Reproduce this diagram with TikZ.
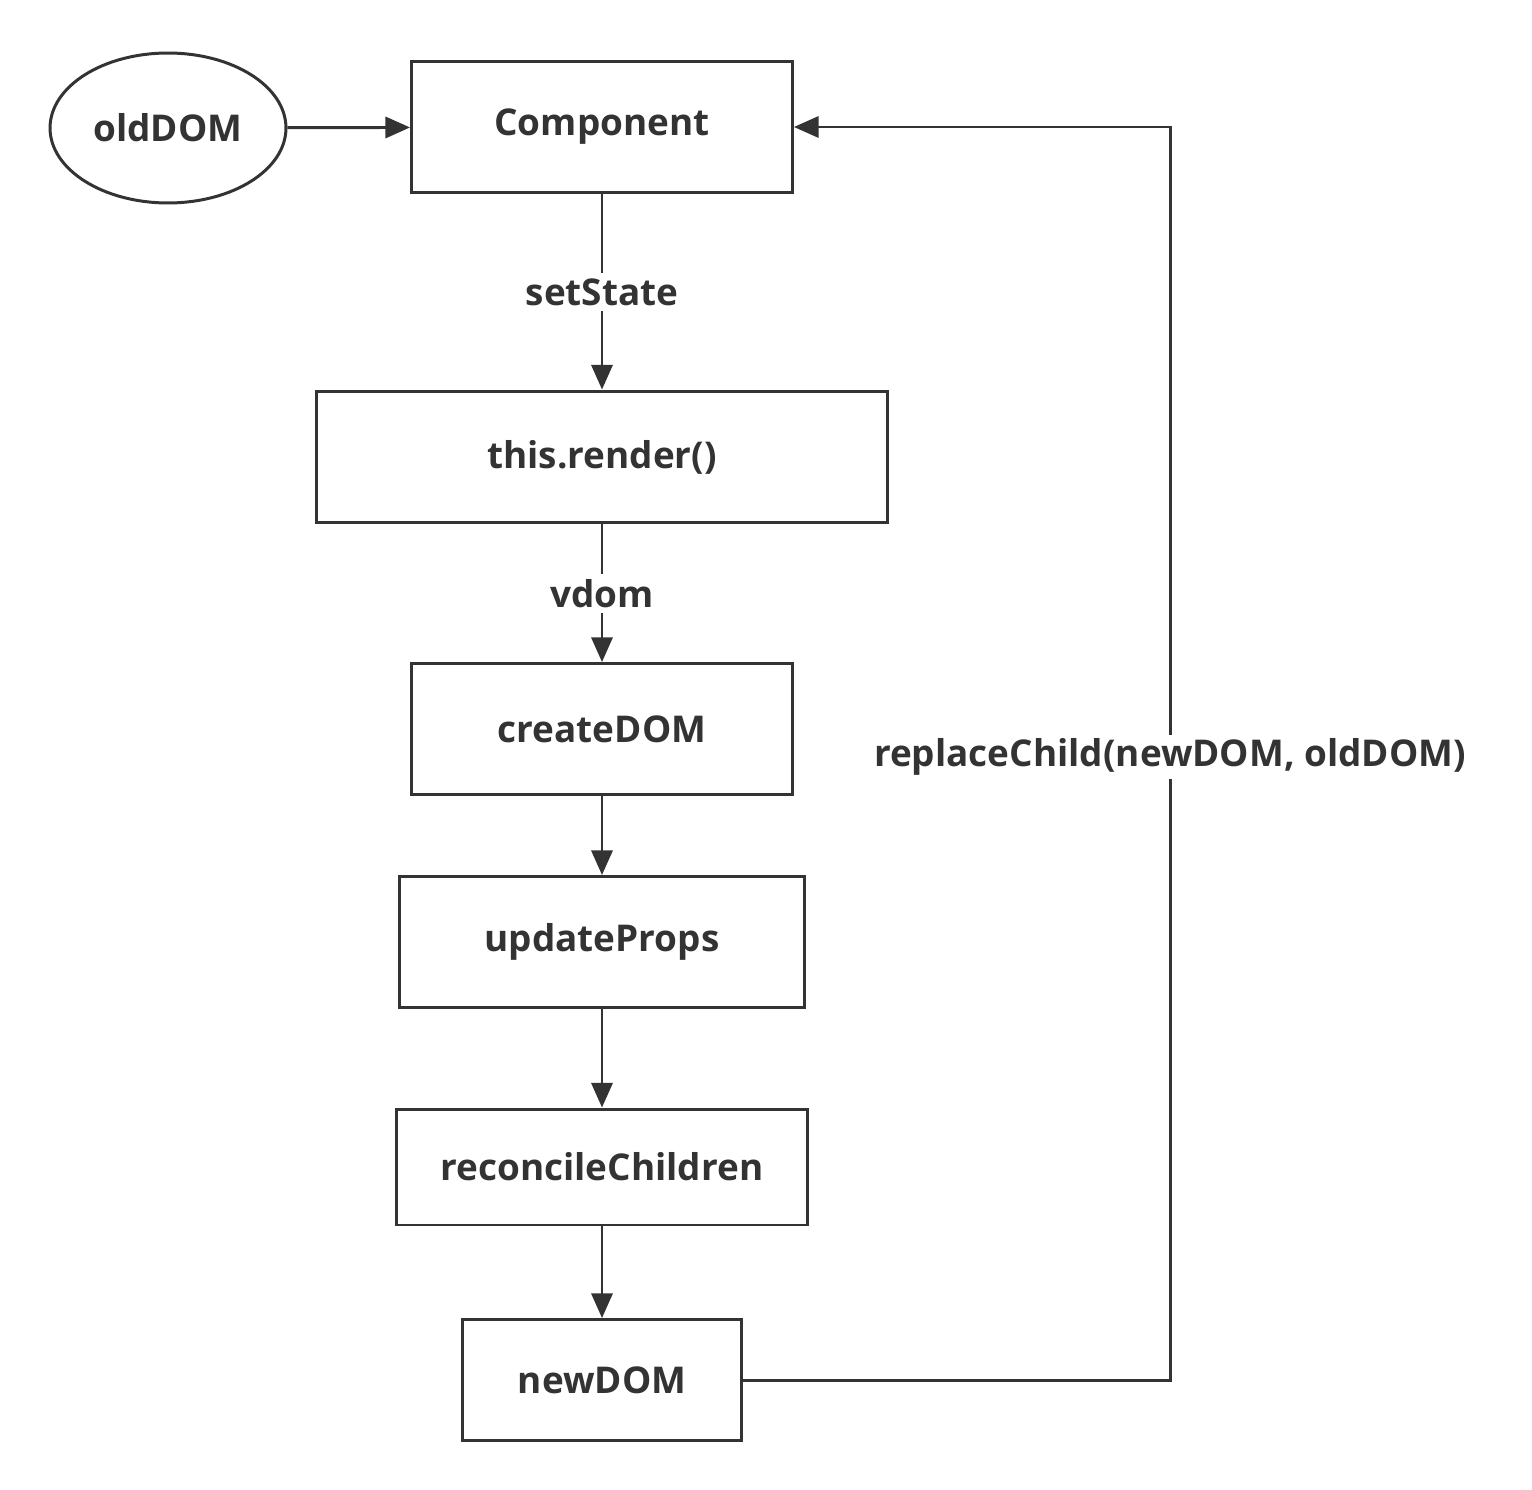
\documentclass[tikz,border=0pt]{standalone}
\usepackage{fontspec}
\setmainfont{Open Sans}
\usetikzlibrary{arrows.meta,positioning,shapes.geometric}

\begin{document}
\begin{tikzpicture}[x=0.02cm,y=-0.02cm]
    \tikzset{every node/.style={font=\fontsize{21}{25}\selectfont\bfseries, text=black!80},
        box/.style={draw=black!80, line width=1.7pt, minimum height=2.64cm},
        link/.style={draw=black!80, line width=1.7pt, -{Triangle[length=14pt,width=12pt]}}}
    \useasboundingbox (0,0) rectangle (1532,1490);
    \node [ellipse, draw=black!80, line width=1.7pt, minimum width=4.72cm, minimum height=3cm] (old) at (168,128) {oldDOM};
    \node [box, minimum width=7.62cm] (comp) at (602,127) {Component};
    \node [box, minimum width=11.44cm] (render) at (602,457) {this.render()};
    \node [box, minimum width=7.64cm, minimum height=2.62cm] (create) at (602,729) {createDOM};
    \node [box, minimum width=8.12cm, minimum height=2.62cm] (props) at (602,942) {updateProps};
    \node [box, minimum width=8.24cm, minimum height=2.32cm] (recon) at (602,1167) {reconcileChildren};
    \node [box, minimum width=5.58cm, minimum height=2.42cm] (new) at (602,1380) {newDOM};
    \coordinate (c1) at (1170,1380);
    \coordinate (c2) at (1170,127);
    \draw [link] (old) -- (comp);
    \draw [link] (comp) -- node [fill=white, inner sep=3pt] {setState} (render);
    \draw [link] (render) -- node [fill=white, inner sep=3pt] {vdom} (create);
    \draw [link] (create) -- (props);
    \draw [link] (props) -- (recon);
    \draw [link] (recon) -- (new);
    \draw [link] (new) -- (c1) -- (c2) -- (comp);
    \node [fill=white, inner sep=2pt] (rep) at (1170,757) {replaceChild(newDOM, oldDOM)};
\end{tikzpicture}
\end{document}
